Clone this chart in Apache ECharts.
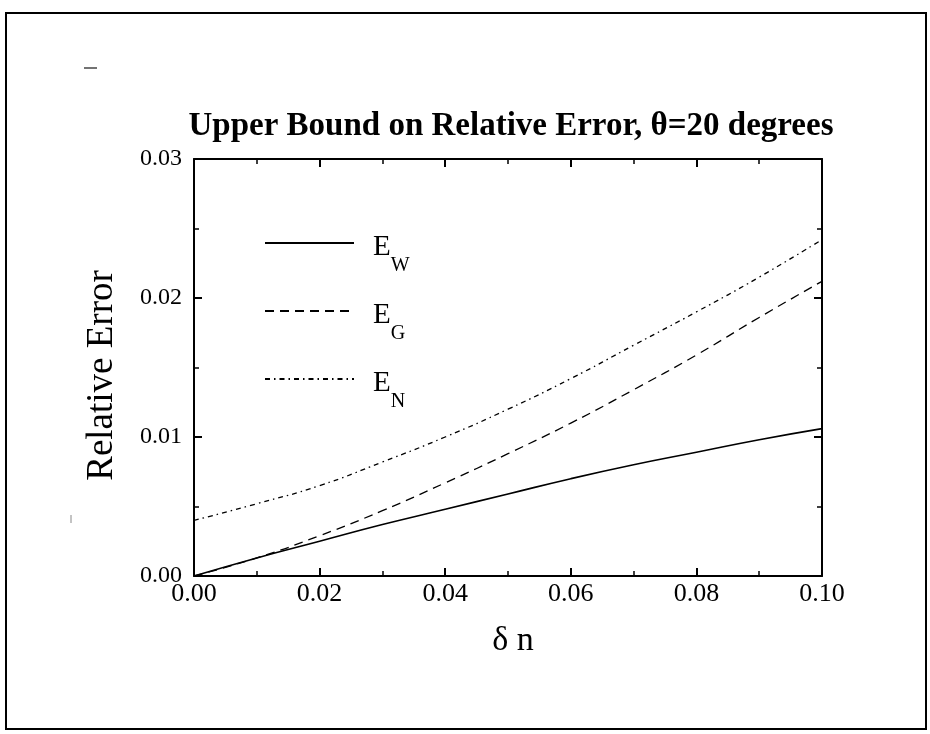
<!DOCTYPE html>
<html>
<head>
<meta charset="utf-8">
<script src="https://cdn.jsdelivr.net/npm/echarts@6/dist/echarts.min.js"></script>
<style>
    html, body { margin: 0; padding: 0; background: #ffffff; }
    #chart { width: 930px; height: 734px; }
</style>
</head>
<body>
<div id="chart"></div>
<script>
// 数据
var deltaN = [0, 0.01, 0.02, 0.03, 0.04, 0.05, 0.06, 0.07, 0.08, 0.09, 0.10];
var errW = [0, 0.0013, 0.0025, 0.0037, 0.0048, 0.0059, 0.0070, 0.0080, 0.0089, 0.0098, 0.0106];
var errG = [0, 0.0013, 0.0029, 0.0047, 0.0067, 0.0088, 0.0110, 0.0134, 0.0159, 0.0186, 0.0212];
var errN = [0.0040, 0.0052, 0.0065, 0.0082, 0.0100, 0.0120, 0.0142, 0.0166, 0.0190, 0.0215, 0.0242];
var seriesNames = ['W', 'G', 'N'];

var serif = 'Liberation Serif';

function pairs(ys) {
    return deltaN.map(function (x, i) { return [x, ys[i]]; });
}

var myChart = echarts.init(document.getElementById('chart'));

function axisStyle() {
    return {
        axisLine: { show: true, onZero: false, lineStyle: { color: '#000', width: 2 } },
        axisTick: { show: true, inside: true, length: 8, lineStyle: { color: '#000', width: 2 } },
        minorTick: { show: true, splitNumber: 2, length: 5, lineStyle: { color: '#000', width: 1.5 } },
        splitLine: { show: false }
    };
}

var option = {
    backgroundColor: '#ffffff',
    animation: false,
    title: {
        text: 'Upper Bound on Relative Error, \u03b8=20 degrees',
        left: 511,
        top: 110,
        padding: 0,
        textAlign: 'center',
        textStyle: {
            fontFamily: serif,
            fontWeight: 'bold',
            fontSize: 33,
            color: '#000'
        }
    },
    legend: {
        orient: 'vertical',
        left: 264,
        top: 229,
        padding: 0,
        itemWidth: 89,
        itemHeight: 14,
        itemGap: 9,
        data: seriesNames,
        itemStyle: { opacity: 0 },
        formatter: function (name) { return '{e|E}{s|' + name + '}'; },
        textStyle: {
            color: '#000',
            fontFamily: serif,
            rich: {
                e: { fontFamily: serif, fontSize: 29, lineHeight: 28, verticalAlign: 'top', padding: [4, 0, 0, 14], color: '#000' },
                s: { fontFamily: serif, fontSize: 20, lineHeight: 19, verticalAlign: 'top', padding: [27, 0, 12, 0], color: '#000' }
            }
        }
    },
    grid: {
        left: 194,
        right: 108,
        top: 159,
        bottom: 158
    },
    xAxis: [
        echarts.util.merge({
            type: 'value',
            min: 0,
            max: 0.1,
            interval: 0.02,
            name: '\u03b4 n',
            nameLocation: 'middle',
            nameGap: 48,
            nameTextStyle: { fontFamily: serif, fontSize: 34, color: '#000', padding: [0, 0, 0, 10] },
            axisLabel: {
                margin: 5,
                fontFamily: serif,
                fontSize: 26,
                color: '#000',
                formatter: function (v) { return v.toFixed(2); }
            }
        }, axisStyle(), true),
        echarts.util.merge({
            type: 'value',
            position: 'top',
            min: 0,
            max: 0.1,
            interval: 0.02,
            axisLabel: { show: false }
        }, axisStyle(), true)
    ],
    yAxis: [
        echarts.util.merge({
            type: 'value',
            min: 0,
            max: 0.03,
            interval: 0.01,
            name: 'Relative Error',
            nameLocation: 'middle',
            nameGap: 73,
            nameTextStyle: { fontFamily: serif, fontSize: 37, color: '#000', padding: [0, 16, 0, 0] },
            axisLabel: {
                margin: 12,
                fontFamily: serif,
                fontSize: 24,
                color: '#000',
                formatter: function (v) { return v.toFixed(2); }
            }
        }, axisStyle(), true),
        echarts.util.merge({
            type: 'value',
            position: 'right',
            min: 0,
            max: 0.03,
            interval: 0.01,
            axisLabel: { show: false }
        }, axisStyle(), true)
    ],
    series: [
        {
            name: 'W',
            type: 'line',
            data: pairs(errW),
            smooth: true,
            symbol: 'none',
            itemStyle: { color: '#000' },
            lineStyle: { color: '#000', width: 1.6, type: 'solid' }
        },
        {
            name: 'G',
            type: 'line',
            data: pairs(errG),
            smooth: true,
            symbol: 'none',
            itemStyle: { color: '#000' },
            lineStyle: { color: '#000', width: 1.3, type: [9, 6] }
        },
        {
            name: 'N',
            type: 'line',
            data: pairs(errN),
            smooth: true,
            symbol: 'none',
            itemStyle: { color: '#000' },
            lineStyle: { color: '#000', width: 1.3, type: [5, 4, 1.5, 4] }
        }
    ],
    graphic: [
        {
            type: 'rect',
            shape: { x: 6, y: 13, width: 920, height: 716 },
            style: { fill: 'none', stroke: '#000', lineWidth: 2 },
            silent: true
        },
        {
            type: 'line',
            shape: { x1: 84, y1: 68, x2: 97, y2: 68 },
            style: { stroke: '#444', lineWidth: 1.5 },
            silent: true
        },
        {
            type: 'line',
            shape: { x1: 71, y1: 515, x2: 71, y2: 523 },
            style: { stroke: '#888', lineWidth: 1 },
            silent: true
        }
    ]
};

myChart.setOption(option);
</script>
</body>
</html>
